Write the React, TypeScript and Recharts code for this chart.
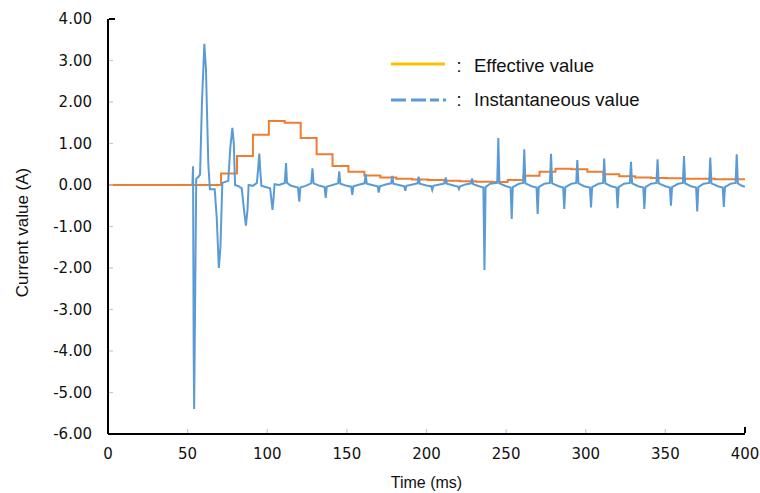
import { LineChart, Line, XAxis, YAxis, Legend } from "recharts";

// effective value (stepped, 10 ms windows)
const effTimes = [0, 71, 81, 91, 101, 111, 121, 131, 141, 151, 161, 171, 181, 191, 201, 211, 221, 231, 241, 251, 261, 271, 281, 291, 301, 311, 321, 331, 341, 351, 361, 371, 381, 391, 400];
const effValues = [0, 0.28, 0.7, 1.21, 1.54, 1.5, 1.13, 0.74, 0.46, 0.32, 0.23, 0.18, 0.15, 0.13, 0.12, 0.1, 0.09, 0.08, 0.07, 0.12, 0.22, 0.32, 0.39, 0.38, 0.32, 0.26, 0.21, 0.18, 0.17, 0.16, 0.15, 0.15, 0.14, 0.14, 0.14];

// instantaneous value, [ms, A]
const instantaneous: [number, number][] = [
  [53.0, 0], [53.4, 0.45], [53.8, -4.0], [54.1, -5.4], [55.4, 0.15], [56.8, 0.2], [57.8, 0.25],
  [59.0, 2.0], [60.5, 3.4], [61.5, 2.8], [63.0, 0.5], [64.0, -0.1], [67.0, -0.1], [68.3, -0.8], [69.6, -2.0],
  [70.6, -1.5], [71.8, 0.05], [75.5, 0.1], [76.8, 0.9], [78.1, 1.38], [79.0, 1.0], [79.8, 0.0], [82.0, -0.03],
  [84.0, -0.08], [85.4, -0.6], [86.6, -0.98], [87.6, -0.6], [88.3, 0.0], [91.0, -0.02], [93.5, 0.05], [94.3, 0.4],
  [95.0, 0.76], [95.7, 0.3], [96.3, -0.02], [99.0, -0.05], [101.8, -0.08], [102.6, -0.35], [103.3, -0.6], [104.0, -0.3],
  [104.6, 0.02], [107.5, 0.0], [111.0, 0.05], [111.8, 0.53], [112.4, 0.05], [115.0, -0.02], [119.3, -0.06], [120.1, -0.4],
  [120.8, -0.06], [124.0, -0.02], [127.6, 0.04], [128.4, 0.4], [129.1, 0.04], [133.0, -0.02], [136.0, -0.05], [136.7, -0.31],
  [137.4, -0.04], [141.0, 0.0], [144.5, 0.04], [145.2, 0.33], [145.9, 0.03], [150.0, -0.02], [152.7, -0.04], [153.4, -0.24],
  [154.1, -0.03], [158.0, 0.01], [161.1, 0.04], [161.8, 0.26], [162.5, 0.03], [167.0, -0.01], [169.3, -0.03], [170.0, -0.18],
  [170.7, -0.03], [175.0, 0.02], [177.8, 0.04], [178.5, 0.22], [179.2, 0.03], [184.0, -0.01], [186.0, -0.03], [186.7, -0.14],
  [187.4, -0.02], [192.0, 0.02], [194.4, 0.04], [195.1, 0.2], [195.8, 0.03], [200.0, -0.01], [202.9, -0.03], [203.6, -0.12],
  [204.3, -0.02], [209.0, 0.02], [211.4, 0.04], [212.1, 0.18], [212.8, 0.03], [217.0, -0.01], [219.7, -0.04], [220.4, -0.1],
  [221.1, -0.03], [225.0, 0.02], [227.9, 0.04], [228.6, 0.16], [229.3, 0.02], [233.0, -0.03], [235.7, -0.06], [236.4, -2.05],
  [237.1, -0.05], [240.0, 0.03], [244.4, 0.05], [245.1, 1.13], [245.8, 0.04], [250.0, -0.03], [252.8, -0.06], [253.5, -0.82],
  [254.2, -0.05], [258.0, 0.03], [260.7, 0.05], [261.4, 0.86], [262.1, 0.04], [266.0, -0.03], [269.1, -0.06], [269.8, -0.7],
  [270.5, -0.05], [274.0, 0.03], [277.5, 0.05], [278.2, 0.75], [278.9, 0.04], [283.0, -0.03], [285.8, -0.06], [286.5, -0.58],
  [287.2, -0.05], [291.0, 0.03], [294.0, 0.05], [294.7, 0.6], [295.4, 0.04], [299.0, -0.03], [302.6, -0.06], [303.3, -0.54],
  [304.0, -0.05], [308.0, 0.03], [310.9, 0.05], [311.6, 0.64], [312.3, 0.04], [316.0, -0.03], [319.3, -0.06], [320.0, -0.56],
  [320.7, -0.05], [324.0, 0.03], [327.7, 0.05], [328.4, 0.56], [329.1, 0.04], [333.0, -0.03], [336.1, -0.06], [336.8, -0.58],
  [337.5, -0.05], [341.0, 0.03], [344.4, 0.05], [345.1, 0.62], [345.8, 0.04], [350.0, -0.03], [352.8, -0.06], [353.5, -0.5],
  [354.2, -0.05], [358.0, 0.03], [361.0, 0.05], [361.7, 0.7], [362.4, 0.04], [366.0, -0.03], [369.3, -0.06], [370.0, -0.64],
  [370.7, -0.05], [374.0, 0.03], [377.5, 0.05], [378.2, 0.66], [378.9, 0.04], [383.0, -0.03], [386.0, -0.06], [386.7, -0.53],
  [387.4, -0.05], [391.0, 0.03], [394.1, 0.05], [394.8, 0.74], [395.5, 0.04], [398.0, -0.02], [400.0, -0.04],
];

const xTicks = [0, 50, 100, 150, 200, 250, 300, 350, 400];
const yTicks = [-6, -5, -4, -3, -2, -1, 0, 1, 2, 3, 4];

const ORANGE = "#ED7D31";
const BLUE = "#5B9BD5";
const LEGEND_YELLOW = "#FFC000";
const TICK_FONT = "'DejaVu Sans', Verdana, sans-serif";
const LABEL_FONT = "'Liberation Sans', Arial, sans-serif";

const effData = effTimes.map((t, i) => ({ t, v: effValues[i] }));
const instData = instantaneous.map(([t, v]) => ({ t, v }));

function YTick(props: any) {
  const { x, y, payload } = props;
  const ax = x + 16;
  const isTop = payload.value === 4;
  return (
    <g>
      {payload.value !== -6 && (
        <line
          x1={ax + 1}
          x2={ax + (isTop ? 7 : 5)}
          y1={y}
          y2={y}
          stroke={isTop ? "#000" : "#c8c8c8"}
          strokeWidth={isTop ? 2 : 1.2}
        />
      )}
      <text x={x} y={y} textAnchor="end" dominantBaseline="central" fontFamily={TICK_FONT} fontSize={15} fill="#111">
        {payload.value.toFixed(2)}
      </text>
    </g>
  );
}

function XTick(props: any) {
  const { x, y, payload } = props;
  const ay = y - 14;
  const isEnd = payload.value === 400;
  return (
    <g>
      {payload.value !== 0 && (
        <line
          x1={x}
          x2={x}
          y1={ay - 1}
          y2={ay - (isEnd ? 7 : 5)}
          stroke={isEnd ? "#000" : "#c8c8c8"}
          strokeWidth={isEnd ? 2 : 1.2}
        />
      )}
      <text x={x} y={y} dy="0.71em" textAnchor="middle" fontFamily={TICK_FONT} fontSize={15} fill="#111">
        {payload.value}
      </text>
    </g>
  );
}

function LegendBox() {
  return (
    <svg width={290} height={70} style={{ display: "block" }}>
      <line x1={3} x2={57} y1={16} y2={16} stroke={LEGEND_YELLOW} strokeWidth={3} />
      <text x={71} y={24} textAnchor="middle" fontFamily={LABEL_FONT} fontSize={18} fill="#111">:</text>
      <text x={86} y={24} fontFamily={LABEL_FONT} fontSize={18.5} fill="#111">Effective value</text>
      <line x1={3} x2={58} y1={52} y2={52} stroke={BLUE} strokeWidth={3} strokeDasharray="15 5 15 4 9 4 3 100" />
      <text x={71} y={58} textAnchor="middle" fontFamily={LABEL_FONT} fontSize={18} fill="#111">:</text>
      <text x={86} y={57.5} fontFamily={LABEL_FONT} fontSize={18.5} fill="#111">Instantaneous value</text>
    </svg>
  );
}

export default function App() {
  return (
    <div style={{ position: "absolute", left: 0, top: 0, width: 760, height: 493, background: "#fff" }}>
      <LineChart width={760} height={493} margin={{ top: 19, right: 15, left: 0, bottom: 0 }}>
        <XAxis
          dataKey="t"
          type="number"
          domain={[0, 400]}
          ticks={xTicks}
          interval={0}
          height={59}
          tickSize={0}
          tickMargin={14}
          tickLine={false}
          tick={<XTick />}
          axisLine={{ stroke: "#000", strokeWidth: 2 }}
          allowDataOverflow
          label={{
            content: (p: any) => {
              const vb = p.viewBox;
              return (
                <text x={vb.x + vb.width / 2} y={vb.y + vb.height - 5} textAnchor="middle" fontFamily={LABEL_FONT} fontSize={16} fill="#111">
                  Time (ms)
                </text>
              );
            },
          }}
        />
        <YAxis
          type="number"
          domain={[-6, 4]}
          ticks={yTicks}
          interval={0}
          width={108}
          tickSize={0}
          tickMargin={16}
          tickLine={false}
          tick={<YTick />}
          axisLine={{ stroke: "#000", strokeWidth: 2 }}
          allowDataOverflow
          label={{
            content: (p: any) => {
              const vb = p.viewBox;
              const cy = vb.y + vb.height / 2 + 6;
              return (
                <text x={22} y={cy} transform={`rotate(-90, 22, ${cy})`} textAnchor="middle" dominantBaseline="central" fontFamily={LABEL_FONT} fontSize={17} fill="#111">
                  Current value (A)
                </text>
              );
            },
          }}
        />
        <Legend
          layout="vertical"
          align="center"
          verticalAlign="middle"
          content={() => <LegendBox />}
          wrapperStyle={{ position: "absolute", left: 388, top: 48, width: 290 }}
        />
        <Line
          data={effData}
          dataKey="v"
          type="stepAfter"
          stroke={ORANGE}
          strokeWidth={2}
          dot={false}
          activeDot={false}
          isAnimationActive={false}
        />
        <Line
          data={instData}
          dataKey="v"
          type="linear"
          stroke={BLUE}
          strokeWidth={2}
          dot={false}
          activeDot={false}
          isAnimationActive={false}
        />
      </LineChart>
    </div>
  );
}
